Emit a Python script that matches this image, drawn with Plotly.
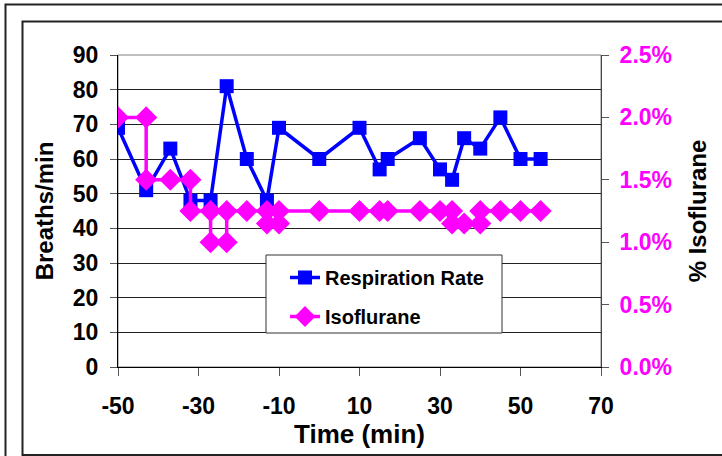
import plotly.graph_objects as go

# Data
resp_time = [-50, -43, -37, -32, -27, -23, -18, -13, -10, 0, 10, 15, 17, 25, 30, 33, 36, 40, 45, 50, 55]
resp_rate = [69, 51, 63, 48, 48, 81, 60, 48, 69, 60, 69, 57, 60, 66, 57, 54, 66, 63, 72, 60, 60]

iso_time = [-50, -43, -43, -37, -32, -32, -27, -27, -23, -23, -18, -13, -13, -10, -10,
            0, 10, 15, 17, 25, 30, 33, 33, 36, 40, 40, 45, 50, 55]
iso_pct = [2.0, 2.0, 1.5, 1.5, 1.5, 1.25, 1.25, 1.0, 1.0, 1.25, 1.25, 1.25, 1.15, 1.15, 1.25,
           1.25, 1.25, 1.25, 1.25, 1.25, 1.25, 1.25, 1.15, 1.15, 1.15, 1.25, 1.25, 1.25, 1.25]
iso_frac = [v / 100 for v in iso_pct]

x_ticks = [-50, -30, -10, 10, 30, 50, 70]
y_ticks = [0, 10, 20, 30, 40, 50, 60, 70, 80, 90]
y2_ticks = [0, 0.005, 0.01, 0.015, 0.02, 0.025]

W, H = 722, 456
L, R, T, B = 118, 601, 55, 367

FONT = "Liberation Sans, Arial, sans-serif"
BLUE = "#0000FF"
MAG = "#FF00FF"

fig = go.Figure()
fig.add_trace(go.Scatter(
    x=resp_time, y=resp_rate, name="<b>Respiration Rate</b>", mode="lines+markers",
    legendgroup="a",
    line=dict(color=BLUE, width=3.5),
    marker=dict(symbol="square", size=14, color=BLUE),
))
fig.add_trace(go.Scatter(
    x=iso_time, y=iso_frac, name="<b>Isoflurane</b>", mode="lines+markers", yaxis="y2",
    legendgroup="b",
    line=dict(color=MAG, width=3.5),
    marker=dict(symbol="diamond", size=17, color=MAG),
))

def px_x(p):
    return (p - L) / (R - L)

def px_y(p):
    return (B - p) / (B - T)

shapes = [
    dict(type="rect", xref="paper", yref="paper", x0=px_x(5.5), x1=px_x(740), y0=px_y(470), y1=px_y(4.5),
         line=dict(color="#222", width=2), layer="below"),
    dict(type="rect", xref="paper", yref="paper", x0=px_x(22.5), x1=px_x(740), y0=px_y(455), y1=px_y(21.5),
         line=dict(color="#222", width=2), layer="below"),
    dict(type="rect", xref="paper", yref="paper", x0=0, x1=1, y0=0, y1=1,
         line=dict(color="#808080", width=1), layer="below"),
    # legend frame
    dict(type="rect", xref="paper", yref="paper", x0=px_x(266), x1=px_x(502), y0=px_y(333), y1=px_y(255),
         line=dict(color="#333", width=1), fillcolor="white", layer="above"),
]

fig.update_layout(
    width=W, height=H,
    margin=dict(l=L, r=W - R, t=T, b=H - B),
    paper_bgcolor="white", plot_bgcolor="white",
    font=dict(family=FONT, color="black"),
    showlegend=True,
    legend=dict(
        x=px_x(285), y=px_y(258), xanchor="left", yanchor="top",
        bgcolor="rgba(0,0,0,0)", borderwidth=0,
        font=dict(family=FONT, size=20, color="black"),
        traceorder="grouped", tracegroupgap=10,
    ),
    xaxis=dict(
        range=[-50, 70], tickvals=x_ticks, ticktext=[f"<b>{v}</b>" for v in x_ticks],
        ticks="outside", ticklen=8, tickcolor="#555", showline=True, linecolor="black", linewidth=1,
        showgrid=False, zeroline=False, ticklabelstandoff=10,
        tickfont=dict(family=FONT, size=23, color="black"),
        title=dict(text="<b>Time (min)</b>", font=dict(family=FONT, size=26, color="black"), standoff=6),
    ),
    yaxis=dict(
        range=[0, 90], tickvals=y_ticks, ticktext=[f"<b>{v}</b>" for v in y_ticks],
        ticks="outside", ticklen=7, tickcolor="#555", showline=True, linecolor="black", linewidth=1,
        showgrid=True, gridcolor="#222", gridwidth=1, zeroline=False, ticklabelstandoff=7,
        tickfont=dict(family=FONT, size=23, color="black"),
        title=dict(text="<b>Breaths/min</b>", font=dict(family=FONT, size=24, color="black"), standoff=12),
    ),
    yaxis2=dict(
        range=[0, 0.025], overlaying="y", side="right", tickvals=y2_ticks,
        ticktext=[f"<b>{v*100:.1f}%</b>" for v in y2_ticks],
        ticks="outside", ticklen=7, tickcolor="#555", showline=True, linecolor="#444", linewidth=1,
        showgrid=False, zeroline=False, ticklabelstandoff=6,
        tickfont=dict(family=FONT, size=23, color=MAG),
        title=dict(text="<b>% Isoflurane</b>", font=dict(family=FONT, size=24, color="black"), standoff=18),
    ),
    shapes=shapes,
)

fig.write_html("out.html")
